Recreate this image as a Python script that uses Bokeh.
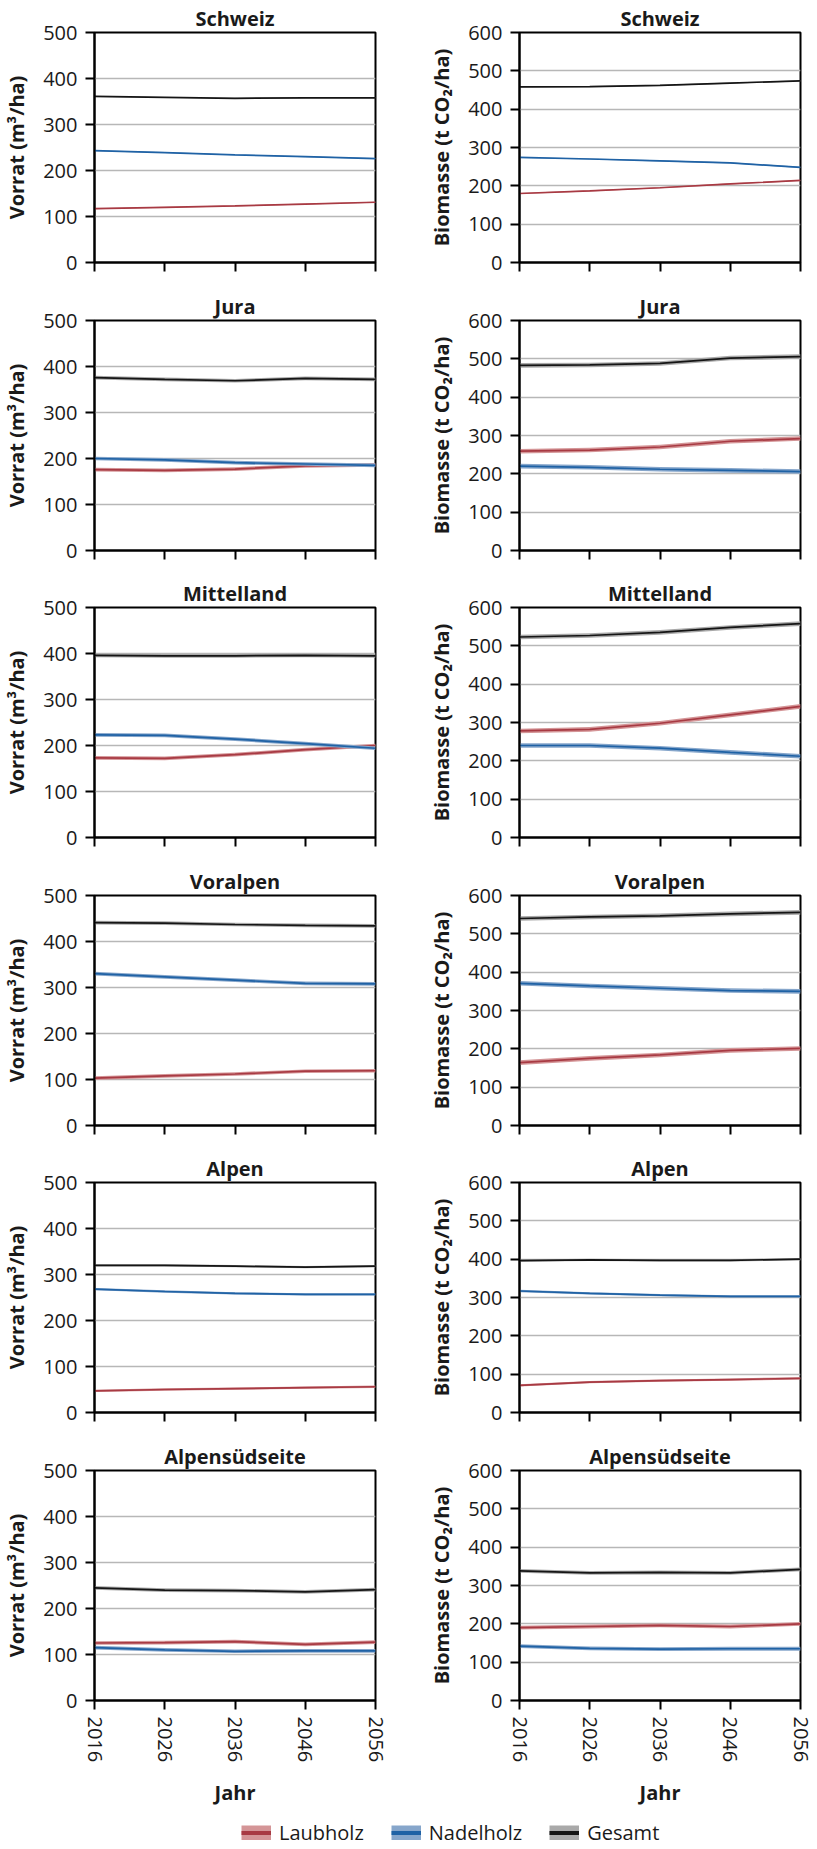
from bokeh.plotting import figure
from bokeh.layouts import column, row
from bokeh.models import Legend, LegendItem, FixedTicker, Range1d
from bokeh.embed import file_html
from bokeh.resources import INLINE

FONT = "Open Sans"

years = [2016, 2026, 2036, 2046, 2056]
regions = ["Schweiz", "Jura", "Mittelland", "Voralpen", "Alpen", "Alpensüdseite"]
series = ["Laubholz", "Nadelholz", "Gesamt"]
year_ticks = [2016, 2026, 2036, 2046, 2056]
vorrat_ticks = [0, 100, 200, 300, 400, 500]
biomasse_ticks = [0, 100, 200, 300, 400, 500, 600]

# Vorrat (m3/ha), per region: values at 2016, 2026, 2036, 2046, 2056
vorrat_laub = [
    [117, 120, 123, 127, 131],
    [176, 174, 177, 184, 186],
    [173, 172, 180, 191, 200],
    [103, 108, 112, 118, 119],
    [47, 50, 52, 54, 56],
    [125, 126, 128, 122, 127],
]
vorrat_nadel = [
    [243, 239, 234, 230, 226],
    [200, 197, 191, 188, 185],
    [223, 222, 214, 204, 194],
    [330, 323, 316, 309, 308],
    [268, 263, 259, 257, 257],
    [115, 110, 107, 108, 108],
]
vorrat_gesamt = [
    [361, 359, 357, 358, 358],
    [376, 372, 369, 374, 372],
    [396, 395, 395, 396, 395],
    [441, 440, 437, 435, 434],
    [320, 320, 318, 316, 318],
    [245, 240, 239, 236, 241],
]
# Biomasse (t CO2/ha)
biomasse_laub = [
    [180, 187, 195, 205, 214],
    [259, 262, 270, 285, 292],
    [278, 282, 298, 320, 342],
    [164, 175, 184, 196, 201],
    [71, 79, 83, 86, 89],
    [190, 193, 196, 193, 200],
]
biomasse_nadel = [
    [274, 270, 265, 260, 248],
    [220, 217, 212, 209, 206],
    [240, 240, 233, 222, 212],
    [371, 364, 358, 352, 350],
    [317, 311, 306, 303, 303],
    [142, 136, 134, 135, 135],
]
biomasse_gesamt = [
    [458, 459, 462, 468, 474],
    [483, 484, 488, 502, 506],
    [523, 527, 535, 548, 558],
    [540, 544, 547, 552, 556],
    [396, 398, 397, 397, 400],
    [338, 333, 334, 333, 342],
]
# half-width of the uncertainty band, per region
band_vorrat = [1, 4, 4, 4, 2.5, 4]
band_biomasse = [1.5, 6, 6, 6, 3, 5]

LINE = {"Laubholz": "#a83a43", "Nadelholz": "#1f62a5", "Gesamt": "#151515"}
BAND = {"Laubholz": "#d49597", "Nadelholz": "#86a6cb", "Gesamt": "#a9a9a9"}
TXT = "#1a1a1a"

border_bottom = [26, 25, 26, 25, 26, 104]
BORDER_TOP = 32
FRAME_H = 230
FRAME_W = 281


def make_panel(i, left):
    region = regions[i]
    last = i == len(regions) - 1
    bt = BORDER_TOP
    bb = border_bottom[i]
    if left:
        bl, br = 89, 44
        ymax, ticks, ylabel = 500, vorrat_ticks, "Vorrat (m³/ha)"
        data = {"Laubholz": vorrat_laub[i], "Nadelholz": vorrat_nadel[i], "Gesamt": vorrat_gesamt[i]}
        band = band_vorrat[i]
    else:
        bl, br = 100, 14
        ymax, ticks, ylabel = 600, biomasse_ticks, "Biomasse (t CO₂/ha)"
        data = {"Laubholz": biomasse_laub[i], "Nadelholz": biomasse_nadel[i], "Gesamt": biomasse_gesamt[i]}
        band = band_biomasse[i]
    p = figure(frame_width=FRAME_W, frame_height=FRAME_H,
               x_range=Range1d(2016, 2056), y_range=Range1d(0, ymax),
               output_backend="svg", toolbar_location=None, title=region,
               min_border_left=bl, min_border_right=br, min_border_top=bt, min_border_bottom=bb)
    p.title.align = "center"
    p.title.text_font = FONT
    p.title.text_font_size = "20px"
    p.title.text_font_style = "bold"
    p.title.text_color = TXT
    p.title.standoff = 2

    p.outline_line_color = "black"
    p.outline_line_width = 2
    p.xgrid.visible = False
    p.ygrid.ticker = FixedTicker(ticks=ticks)
    p.ygrid.grid_line_color = "#b7b7b7"
    p.ygrid.grid_line_width = 1.5

    for ax in (p.xaxis[0], p.yaxis[0]):
        ax.axis_line_color = "black"
        ax.axis_line_width = 2
        ax.major_tick_line_color = "black"
        ax.major_tick_line_width = 2
        ax.major_tick_out = 9
        ax.major_tick_in = 0
        ax.minor_tick_line_color = None
        ax.major_label_text_font = FONT
        ax.major_label_text_font_size = "20px"
        ax.major_label_text_color = TXT
        ax.major_label_standoff = 8
        ax.axis_label_text_font = FONT
        ax.axis_label_text_font_size = "20px"
        ax.axis_label_text_font_style = "bold"
        ax.axis_label_text_color = TXT

    p.yaxis.ticker = FixedTicker(ticks=ticks)
    p.yaxis.axis_label = ylabel
    p.yaxis.axis_label_standoff = 10
    p.xaxis.ticker = FixedTicker(ticks=year_ticks)
    if last:
        p.xaxis.major_label_orientation = "vertical"
        p.xaxis.major_label_standoff = 7
        p.xaxis.axis_label = "Jahr"
        p.xaxis.axis_label_standoff = 14
    else:
        p.xaxis.major_label_text_font_size = "0px"
        p.xaxis.major_label_text_color = None

    for s in series:
        vals = data[s]
        p.varea(x=years, y1=[v - band for v in vals], y2=[v + band for v in vals],
                fill_color=BAND[s], fill_alpha=1)
        p.line(x=years, y=vals, line_color=LINE[s], line_width=1.7)
    return p


rows = []
for i in range(len(regions)):
    rows.append(row(make_panel(i, True), make_panel(i, False)))

# legend figure
lf = figure(width=801, height=37, x_range=Range1d(0, 1), y_range=Range1d(0, 1),
            output_backend="svg", toolbar_location=None, min_border=0)
lf.axis.visible = False
lf.grid.visible = False
lf.outline_line_color = None
items = []
for s, vals in zip(series, [vorrat_laub[0], vorrat_nadel[0], vorrat_gesamt[0]]):
    b = lf.line(x=years, y=vals, line_color=BAND[s], line_width=15)
    l = lf.line(x=years, y=vals, line_color=LINE[s], line_width=4)
    items.append(LegendItem(label=s, renderers=[b, l]))
leg = Legend(items=items, orientation="horizontal", location=(241, 0),
             glyph_width=30, glyph_height=15, label_standoff=8, spacing=27,
             padding=0, margin=0, border_line_color=None, background_fill_alpha=0,
             label_text_font=FONT, label_text_font_size="20px", label_text_color=TXT)
lf.add_layout(leg, "center")

layout = column(*rows, lf)
open("out.html", "w").write(file_html(layout, INLINE))
